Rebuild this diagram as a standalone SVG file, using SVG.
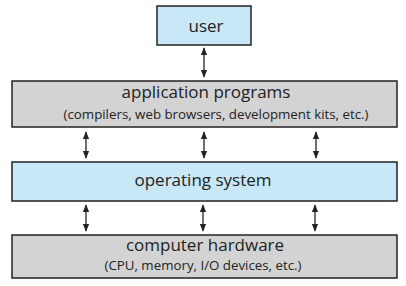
<svg xmlns="http://www.w3.org/2000/svg" width="406" height="286" viewBox="0 0 406 286">
<style>
.box{stroke:#222;stroke-width:1.5}
.blue{fill:#c8e8f8}
.gray{fill:#d3d3d3}
.t{font-family:"Open Sans","Liberation Sans",sans-serif;fill:#222;text-anchor:middle}
.big{font-size:17px}
.small{font-size:13.3px}
.c line{stroke:#222;stroke-width:1.3;marker-start:url(#a);marker-end:url(#a)}
</style>
<defs>
<marker id="a" viewBox="0 0 10 10" refX="9" refY="5" markerWidth="8" markerHeight="8" markerUnits="userSpaceOnUse" orient="auto-start-reverse">
<path d="M0,1 L10,5 L0,9 Z" fill="#222"/>
</marker>
</defs>
<g class="c">
<line x1="204" y1="48" x2="204" y2="77"/>
<line x1="86" y1="132" x2="86" y2="158"/>
<line x1="204" y1="132" x2="204" y2="158"/>
<line x1="316" y1="132" x2="316" y2="158"/>
<line x1="86" y1="205" x2="86" y2="231"/>
<line x1="203" y1="205" x2="203" y2="231"/>
<line x1="315" y1="205" x2="315" y2="231"/>
</g>
<g id="user">
<rect class="box blue" x="157" y="6" width="94" height="39"/>
<text class="t big" x="206" y="32">user</text>
</g>
<g id="app">
<rect class="box gray" x="12" y="81" width="385" height="46"/>
<text class="t big" x="206" y="98">application programs</text>
<text class="t small" x="216" y="119">(compilers, web browsers, development kits, etc.)</text>
</g>
<g id="os">
<rect class="box blue" x="12" y="162" width="385" height="39"/>
<text class="t big" x="203" y="186">operating system</text>
</g>
<g id="hw">
<rect class="box gray" x="12" y="235" width="385" height="43"/>
<text class="t big" x="205" y="251">computer hardware</text>
<text class="t small" x="203" y="270">(CPU, memory, I/O devices, etc.)</text>
</g>
</svg>
